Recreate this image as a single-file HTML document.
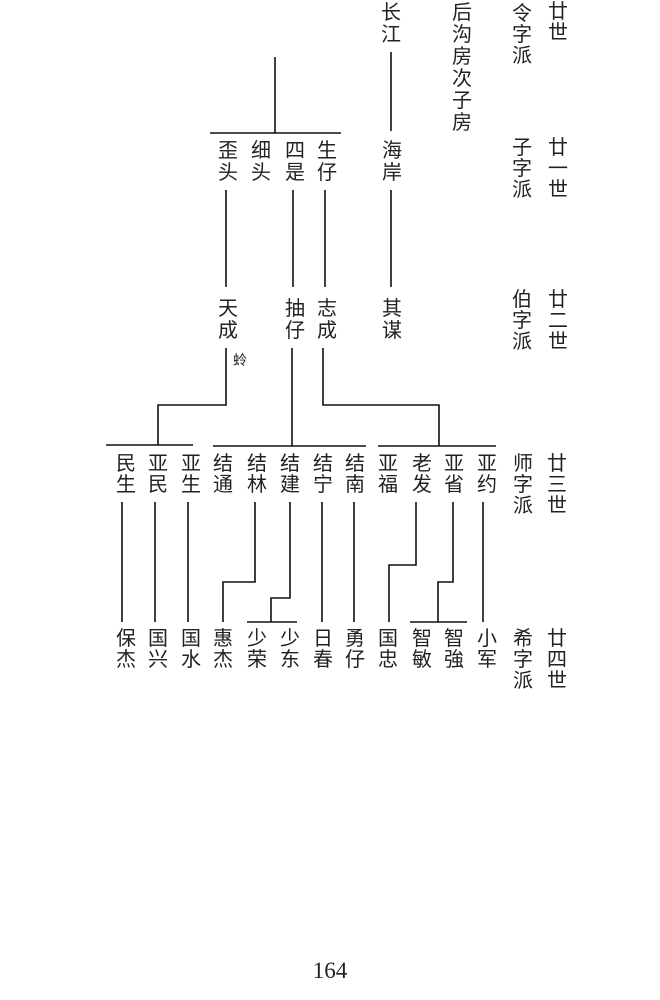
<!DOCTYPE html>
<html><head><meta charset="utf-8"><style>
html,body{margin:0;padding:0;background:#fff;}
#p{position:relative;width:660px;height:1000px;overflow:hidden;background:#fff;}
.t{position:absolute;width:22px;text-align:center;font-family:"Liberation Sans","Noto Sans CJK SC",sans-serif;font-size:20px;line-height:21px;color:#222;}
.l{line-height:22px;}
svg{position:absolute;left:0;top:0;}
</style></head><body><div id="p">
<svg width="660" height="1000" stroke="#111" stroke-width="1.6" fill="none">
<path d="M391 52V131M275 57V133M210 133H341"/>
<path d="M226 190V287M293 190V287M325 190V287M391 190V287"/>
<path d="M226 348V405H158V445M106 445H193"/>
<path d="M292 348V446M213 446H366"/>
<path d="M323 348V405H439V446M378 446H496"/>
<path d="M122 502V622M155 502V622M188 502V622"/>
<path d="M255 502V582H223V622"/>
<path d="M290 502V598H271V622M247 622H297"/>
<path d="M322 502V622M354 502V622M483 502V622"/>
<path d="M416 502V565H389V622"/>
<path d="M453 502V582H438V622M410 622H467"/>
</svg>
<div class="t l" style="left:380px;top:2px">长<br>江</div>
<div class="t l" style="left:451px;top:2px">后<br>沟<br>房<br>次<br>子<br>房</div>
<div class="t" style="left:511px;top:4px">令<br>字<br>派</div>
<div class="t" style="left:547px;top:2px">廿<br>世</div>

<div class="t l" style="left:217px;top:140px">歪<br>头</div>
<div class="t l" style="left:250px;top:140px">细<br>头</div>
<div class="t l" style="left:284px;top:140px">四<br>是</div>
<div class="t l" style="left:316px;top:140px">生<br>仔</div>
<div class="t l" style="left:381px;top:140px">海<br>岸</div>
<div class="t" style="left:511px;top:138px">子<br>字<br>派</div>
<div class="t" style="left:547px;top:138px">廿<br>一<br>世</div>

<div class="t l" style="left:217px;top:298px">天<br>成</div>
<div class="t l" style="left:284px;top:298px">抽<br>仔</div>
<div class="t l" style="left:316px;top:298px">志<br>成</div>
<div class="t l" style="left:381px;top:298px">其<br>谋</div>
<div class="t" style="left:511px;top:290px">伯<br>字<br>派</div>
<div class="t" style="left:547px;top:290px">廿<br>二<br>世</div>
<div class="t" style="left:229px;top:352px;font-size:14px;line-height:16px">蛉</div>

<div class="t" style="left:115px;top:454px">民<br>生</div>
<div class="t" style="left:147px;top:454px">亚<br>民</div>
<div class="t" style="left:180px;top:454px">亚<br>生</div>
<div class="t" style="left:212px;top:454px">结<br>通</div>
<div class="t" style="left:246px;top:454px">结<br>林</div>
<div class="t" style="left:279px;top:454px">结<br>建</div>
<div class="t" style="left:312px;top:454px">结<br>宁</div>
<div class="t" style="left:344px;top:454px">结<br>南</div>
<div class="t" style="left:377px;top:454px">亚<br>福</div>
<div class="t" style="left:411px;top:454px">老<br>发</div>
<div class="t" style="left:443px;top:454px">亚<br>省</div>
<div class="t" style="left:476px;top:454px">亚<br>约</div>
<div class="t" style="left:512px;top:454px">师<br>字<br>派</div>
<div class="t" style="left:546px;top:454px">廿<br>三<br>世</div>

<div class="t" style="left:115px;top:629px">保<br>杰</div>
<div class="t" style="left:147px;top:629px">国<br>兴</div>
<div class="t" style="left:180px;top:629px">国<br>水</div>
<div class="t" style="left:212px;top:629px">惠<br>杰</div>
<div class="t" style="left:246px;top:629px">少<br>荣</div>
<div class="t" style="left:279px;top:629px">少<br>东</div>
<div class="t" style="left:312px;top:629px">日<br>春</div>
<div class="t" style="left:344px;top:629px">勇<br>仔</div>
<div class="t" style="left:377px;top:629px">国<br>忠</div>
<div class="t" style="left:411px;top:629px">智<br>敏</div>
<div class="t" style="left:443px;top:629px">智<br>強</div>
<div class="t" style="left:476px;top:629px">小<br>军</div>
<div class="t" style="left:512px;top:629px">希<br>字<br>派</div>
<div class="t" style="left:546px;top:629px">廿<br>四<br>世</div>

<div style="position:absolute;left:300px;top:958px;width:60px;text-align:center;font-family:'Liberation Serif',serif;font-size:23px;color:#222">164</div>
</div></body></html>
